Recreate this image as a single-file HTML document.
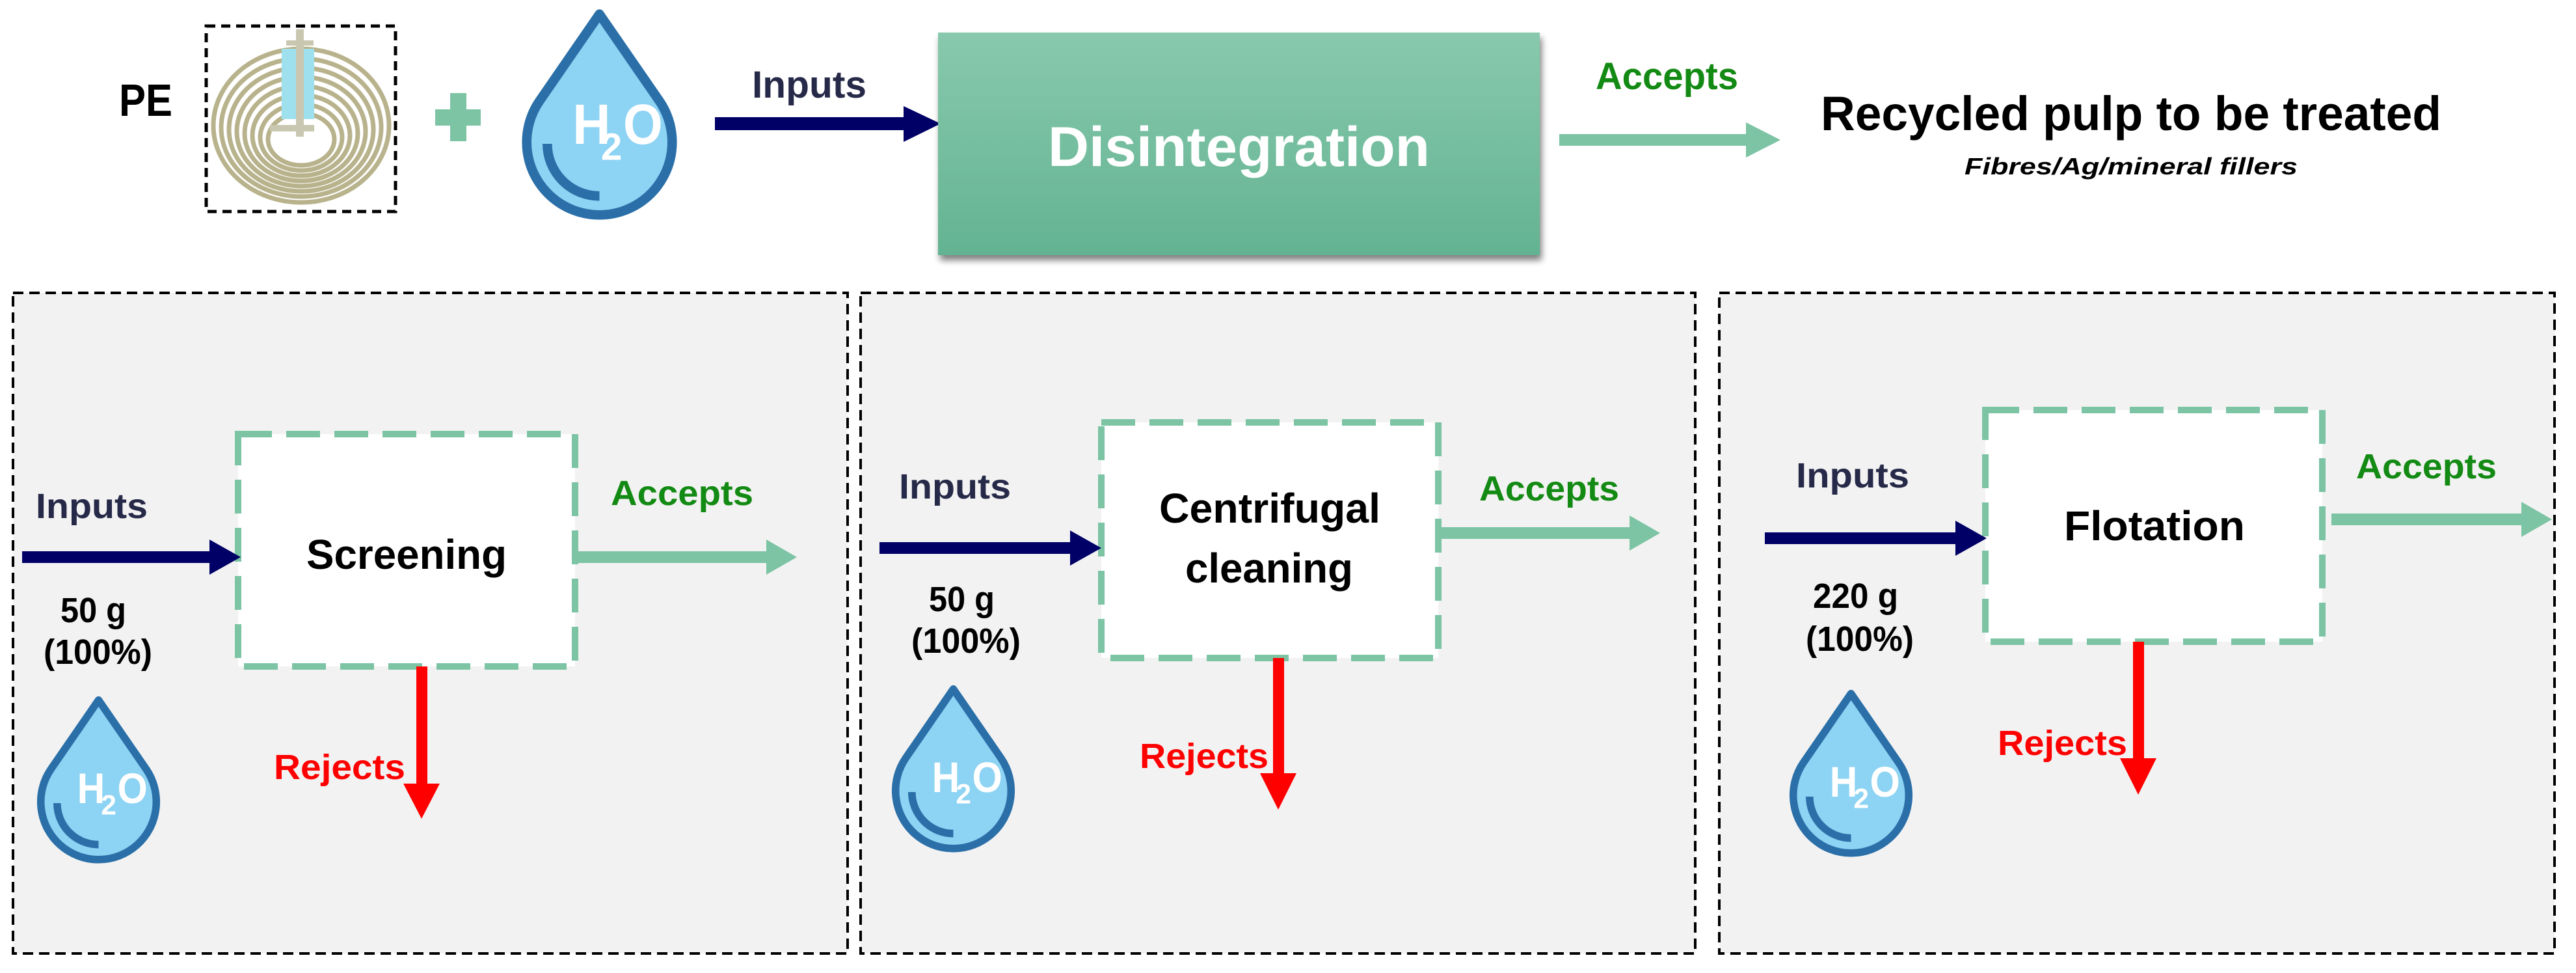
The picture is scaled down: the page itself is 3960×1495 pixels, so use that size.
<!DOCTYPE html>
<html><head><meta charset="utf-8"><style>
html,body{margin:0;padding:0;background:#fff;}
svg{display:block;}
text{font-family:"Liberation Sans",sans-serif;font-weight:bold;}
</style></head><body>
<svg width="3960" height="1495" viewBox="0 0 3960 1495" xmlns="http://www.w3.org/2000/svg">
<defs>
<linearGradient id="g" x1="0" y1="0" x2="0" y2="1"><stop offset="0" stop-color="#88c9ad"/><stop offset="1" stop-color="#63b392"/></linearGradient>
<filter id="sh" x="-5%" y="-5%" width="112%" height="120%"><feGaussianBlur in="SourceAlpha" stdDeviation="5"/><feOffset dx="3" dy="8"/><feComponentTransfer><feFuncA type="linear" slope="0.5"/></feComponentTransfer><feMerge><feMergeNode/><feMergeNode in="SourceGraphic"/></feMerge></filter>
</defs>
<rect width="3960" height="1495" fill="#fff"/>

<!-- TOP ROW -->
<text x="183" y="178" font-size="70" textLength="82" lengthAdjust="spacingAndGlyphs" fill="#000">PE</text>
<rect x="317" y="40" width="291" height="285" fill="none" stroke="#000" stroke-width="5" stroke-dasharray="14 9"/>
<g fill="none" stroke="#b8b38c" stroke-width="7">
<ellipse cx="463" cy="193" rx="135" ry="118"/>
<ellipse cx="463" cy="196" rx="123" ry="106"/>
<ellipse cx="463" cy="199" rx="111" ry="95"/>
<ellipse cx="463" cy="202" rx="99" ry="84"/>
<ellipse cx="463" cy="205" rx="87" ry="73"/>
<ellipse cx="463" cy="208" rx="75" ry="62"/>
<ellipse cx="463" cy="211" rx="63" ry="51"/>
<ellipse cx="463" cy="214" rx="51" ry="40"/>
</g>
<rect x="433" y="75" width="50" height="108" fill="#9fe0ef"/>
<rect x="455" y="45" width="12" height="165" fill="#c9c7b0"/>
<rect x="440" y="62" width="42" height="8" fill="#c9c7b0"/>
<rect x="415" y="192" width="68" height="10" fill="#c9c7b0"/>
<g fill="#7cc4a4"><rect x="692" y="143" width="25" height="74"/><rect x="669" y="168" width="70" height="25"/></g>

<g transform="translate(800,12) scale(2.43)">
<path d="M50,4 L12.1,58.9 A46,46 0 1 0 87.9,58.9 Z" fill="#8dd3f3" stroke="#2a6fa8" stroke-width="6" stroke-linejoin="round"/>
<path d="M17,86 A33,33 0 0 0 50,119" fill="none" stroke="#2a6fa8" stroke-width="6"/>
<text x="33" y="86" font-size="36" fill="#fff" textLength="24" lengthAdjust="spacingAndGlyphs">H</text>
<text x="51" y="96" font-size="24" fill="#fff">2</text>
<text x="65" y="86" font-size="36" fill="#fff" textLength="25" lengthAdjust="spacingAndGlyphs">O</text>
</g>

<text x="1156" y="150" font-size="58" textLength="176" lengthAdjust="spacingAndGlyphs" fill="#262a48">Inputs</text>
<polygon points="1099,180 1389,180 1389,163 1446,190 1389,218 1389,200 1099,200" fill="#000066"/>

<rect x="1442" y="50" width="925" height="342" fill="url(#g)" filter="url(#sh)"/>
<text x="1611" y="255" font-size="86" textLength="587" lengthAdjust="spacingAndGlyphs" fill="#fff">Disintegration</text>

<text x="2453" y="137" font-size="58" textLength="219" lengthAdjust="spacingAndGlyphs" fill="#138a13">Accepts</text>
<polygon points="2397,206 2684,206 2684,188 2737,215 2684,242 2684,224 2397,224" fill="#7cc4a4"/>
<text x="2799" y="200" font-size="74" textLength="954" lengthAdjust="spacingAndGlyphs" fill="#000">Recycled pulp to be treated</text>
<text x="3020" y="268" font-size="36" font-style="italic" textLength="512" lengthAdjust="spacingAndGlyphs" fill="#000">Fibres/Ag/mineral fillers</text>

<!-- PANELS -->
<g fill="#f2f2f2" stroke="#000" stroke-width="4" stroke-dasharray="16 9">
<rect x="20" y="450" width="1283" height="1015"/>
<rect x="1323" y="450" width="1283" height="1015"/>
<rect x="2643" y="450" width="1284" height="1015"/>
</g>

<!-- Panel 1 -->
<rect x="366" y="667" width="518" height="357" fill="#fff" stroke="#7cc4a4" stroke-width="10" stroke-dasharray="52 22"/>
<text x="471" y="874" font-size="64" textLength="308" lengthAdjust="spacingAndGlyphs" fill="#000">Screening</text>
<text x="55" y="796" font-size="54" textLength="172" lengthAdjust="spacingAndGlyphs" fill="#262a48">Inputs</text>
<polygon points="34,847 322,847 322,829 370,856 322,883 322,865 34,865" fill="#000066"/>
<text x="93" y="956" font-size="54" textLength="101" lengthAdjust="spacingAndGlyphs" fill="#000">50 g</text>
<text x="67" y="1020" font-size="54" textLength="167" lengthAdjust="spacingAndGlyphs" fill="#000">(100%)</text>
<text x="939" y="776" font-size="54" textLength="219" lengthAdjust="spacingAndGlyphs" fill="#138a13">Accepts</text>
<polygon points="880,847 1178,847 1178,829 1225,856 1178,883 1178,865 880,865" fill="#7cc4a4"/>
<polygon points="640,1024 657,1024 657,1204 676,1204 648,1258 620,1204 640,1204" fill="#ff0000"/>
<text x="421" y="1197" font-size="54" textLength="202" lengthAdjust="spacingAndGlyphs" fill="#ff0000">Rejects</text>
<g transform="translate(55,1068) scale(1.93)">
<path d="M50,4 L12.1,58.9 A46,46 0 1 0 87.9,58.9 Z" fill="#8dd3f3" stroke="#2a6fa8" stroke-width="6" stroke-linejoin="round"/>
<path d="M17,86 A33,33 0 0 0 50,119" fill="none" stroke="#2a6fa8" stroke-width="6"/>
<text x="33" y="86" font-size="34" fill="#fff" textLength="22" lengthAdjust="spacingAndGlyphs">H</text>
<text x="52" y="95" font-size="22" fill="#fff">2</text>
<text x="65" y="86" font-size="34" fill="#fff" textLength="24" lengthAdjust="spacingAndGlyphs">O</text>
</g>

<!-- Panel 2 -->
<rect x="1693" y="649" width="518" height="362" fill="#fff" stroke="#7cc4a4" stroke-width="10" stroke-dasharray="52 22"/>
<text x="1782" y="803" font-size="64" textLength="340" lengthAdjust="spacingAndGlyphs" fill="#000">Centrifugal</text>
<text x="1822" y="895" font-size="64" textLength="258" lengthAdjust="spacingAndGlyphs" fill="#000">cleaning</text>
<text x="1382" y="766" font-size="54" textLength="172" lengthAdjust="spacingAndGlyphs" fill="#262a48">Inputs</text>
<polygon points="1352,833 1645,833 1645,815 1693,842 1645,869 1645,851 1352,851" fill="#000066"/>
<text x="1428" y="939" font-size="54" textLength="101" lengthAdjust="spacingAndGlyphs" fill="#000">50 g</text>
<text x="1401" y="1003" font-size="54" textLength="168" lengthAdjust="spacingAndGlyphs" fill="#000">(100%)</text>
<text x="2274" y="769" font-size="54" textLength="215" lengthAdjust="spacingAndGlyphs" fill="#138a13">Accepts</text>
<polygon points="2211,810 2505,810 2505,792 2552,819 2505,846 2505,828 2211,828" fill="#7cc4a4"/>
<polygon points="1957,1011 1974,1011 1974,1188 1993,1188 1965,1244 1937,1188 1957,1188" fill="#ff0000"/>
<text x="1752" y="1180" font-size="54" textLength="198" lengthAdjust="spacingAndGlyphs" fill="#ff0000">Rejects</text>
<g transform="translate(1369,1051) scale(1.93)">
<path d="M50,4 L12.1,58.9 A46,46 0 1 0 87.9,58.9 Z" fill="#8dd3f3" stroke="#2a6fa8" stroke-width="6" stroke-linejoin="round"/>
<path d="M17,86 A33,33 0 0 0 50,119" fill="none" stroke="#2a6fa8" stroke-width="6"/>
<text x="33" y="86" font-size="34" fill="#fff" textLength="22" lengthAdjust="spacingAndGlyphs">H</text>
<text x="52" y="95" font-size="22" fill="#fff">2</text>
<text x="65" y="86" font-size="34" fill="#fff" textLength="24" lengthAdjust="spacingAndGlyphs">O</text>
</g>

<!-- Panel 3 -->
<rect x="3052" y="630" width="518" height="356" fill="#fff" stroke="#7cc4a4" stroke-width="10" stroke-dasharray="52 22"/>
<text x="3173" y="830" font-size="64" textLength="278" lengthAdjust="spacingAndGlyphs" fill="#000">Flotation</text>
<text x="2761" y="749" font-size="54" textLength="174" lengthAdjust="spacingAndGlyphs" fill="#262a48">Inputs</text>
<polygon points="2713,818 3006,818 3006,800 3054,827 3006,854 3006,836 2713,836" fill="#000066"/>
<text x="2787" y="934" font-size="54" textLength="131" lengthAdjust="spacingAndGlyphs" fill="#000">220 g</text>
<text x="2776" y="1000" font-size="54" textLength="166" lengthAdjust="spacingAndGlyphs" fill="#000">(100%)</text>
<text x="3622" y="735" font-size="54" textLength="216" lengthAdjust="spacingAndGlyphs" fill="#138a13">Accepts</text>
<polygon points="3584,789 3876,789 3876,771 3923,798 3876,825 3876,807 3584,807" fill="#7cc4a4"/>
<polygon points="3279,986 3296,986 3296,1165 3315,1165 3287,1221 3259,1165 3279,1165" fill="#ff0000"/>
<text x="3071" y="1160" font-size="54" textLength="199" lengthAdjust="spacingAndGlyphs" fill="#ff0000">Rejects</text>
<g transform="translate(2749,1058) scale(1.93)">
<path d="M50,4 L12.1,58.9 A46,46 0 1 0 87.9,58.9 Z" fill="#8dd3f3" stroke="#2a6fa8" stroke-width="6" stroke-linejoin="round"/>
<path d="M17,86 A33,33 0 0 0 50,119" fill="none" stroke="#2a6fa8" stroke-width="6"/>
<text x="33" y="86" font-size="34" fill="#fff" textLength="22" lengthAdjust="spacingAndGlyphs">H</text>
<text x="52" y="95" font-size="22" fill="#fff">2</text>
<text x="65" y="86" font-size="34" fill="#fff" textLength="24" lengthAdjust="spacingAndGlyphs">O</text>
</g>
</svg>
</body></html>
